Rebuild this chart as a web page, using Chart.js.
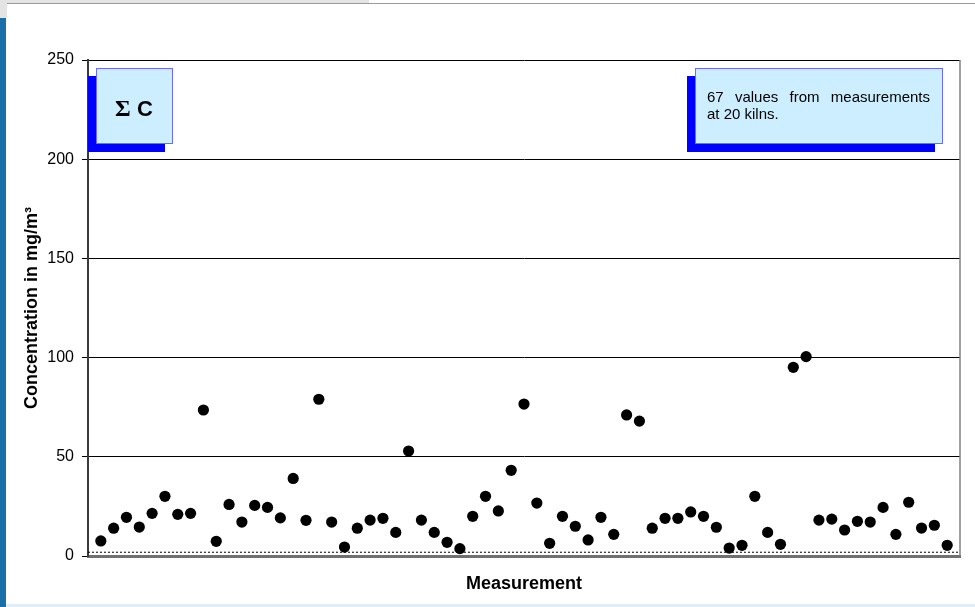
<!DOCTYPE html>
<html>
<head>
<meta charset="utf-8">
<title>Sum C concentration</title>
<script src="https://cdn.jsdelivr.net/npm/chart.js@4.4.0/dist/chart.umd.min.js"></script>
<style>
    html, body { margin: 0; padding: 0; background: #fff; }
    #page { position: relative; width: 975px; height: 607px; overflow: hidden; background: #fff; }
    #topBand { position: absolute; left: 0; top: 0; width: 369px; height: 3px; background: #e4e4e4; }
    #corner { position: absolute; left: 0; top: 0; width: 7px; height: 18px; background: #e4e4e4; }
    #topLine { position: absolute; left: 7px; top: 3px; right: 0; height: 1px; background: #6fa6d2; }
    #sideBar { position: absolute; left: 0; top: 18px; width: 6px; bottom: 0; background: #1b6fa9; }
    #bottomLine { position: absolute; left: 6px; right: 0; bottom: 0; height: 3px; background: #e0eef9; }
    #chart { position: absolute; left: 0; top: 0; }
</style>
</head>
<body>
<div id="page">
    <div id="topBand"></div>
    <div id="corner"></div>
    <div id="topLine"></div>
    <div id="sideBar"></div>
    <div id="bottomLine"></div>
    <canvas id="chart" width="975" height="607"></canvas>
</div>
<script>
// measurement number (x) and concentration in mg/m3 (y)
const measurements = [
    1, 2, 3, 4, 5, 6, 7, 8, 9, 10, 11, 12, 13, 14, 15, 16, 17, 18, 19, 20,
    21, 22, 23, 24, 25, 26, 27, 28, 29, 30, 31, 32, 33, 34, 35, 36, 37, 38, 39, 40,
    41, 42, 43, 44, 45, 46, 47, 48, 49, 50, 51, 52, 53, 54, 55, 56, 57, 58, 59, 60,
    61, 62, 63, 64, 65, 66, 67
];
const concentrations = [
    7.6, 14.0, 19.5, 14.6, 21.5, 30.1, 21.0, 21.5, 73.6, 7.4,
    26.0, 17.1, 25.5, 24.5, 19.2, 39.1, 18.0, 79.0, 17.1, 4.5,
    14.0, 18.1, 19.0, 11.9, 52.9, 18.1, 11.9, 6.9, 3.7, 20.0,
    30.1, 22.7, 43.2, 76.6, 26.7, 6.4, 20.0, 15.0, 8.1, 19.5,
    10.9, 71.1, 68.0, 14.0, 19.0, 19.0, 22.2, 20.0, 14.5, 4.0,
    5.4, 30.1, 11.9, 5.9, 95.1, 100.5, 18.1, 18.6, 13.1, 17.5,
    17.1, 24.5, 10.9, 27.1, 14.1, 15.5, 5.4
];
const yTicks = [0, 50, 100, 150, 200, 250];
const xRange = [0, 68];
const limitLevel = [1.9, 1.9];

const FONT = "'Liberation Sans', Arial, sans-serif";

const points = measurements.map((m, i) => ({ x: m, y: concentrations[i] }));
const limitPoints = xRange.map((x, i) => ({ x: x, y: limitLevel[i] }));

function drawBox(ctx, x, y, w, h) {
    ctx.fillStyle = '#0000ff';
    ctx.fillRect(x - 8, y + 8, w, h);
    ctx.fillStyle = '#cdeeff';
    ctx.fillRect(x, y, w, h);
    ctx.strokeStyle = '#6b6bff';
    ctx.lineWidth = 1;
    ctx.strokeRect(x + 0.5, y + 0.5, w - 1, h - 1);
}

function justifyLine(ctx, text, left, right, y) {
    const words = text.split(' ');
    const widths = words.map(w => ctx.measureText(w).width);
    const total = widths.reduce((a, b) => a + b, 0);
    const gap = (right - left - total) / (words.length - 1);
    let x = left;
    words.forEach((w, i) => {
        ctx.fillText(w, x, y);
        x += widths[i] + gap;
    });
}

const boxesPlugin = {
    id: 'boxes',
    afterDraw(chart) {
        const { ctx, chartArea } = chart;
        ctx.save();
        // right border of plot area
        ctx.strokeStyle = '#808080';
        ctx.lineWidth = 1.5;
        ctx.beginPath();
        ctx.moveTo(chartArea.right, chartArea.top);
        ctx.lineTo(chartArea.right, chartArea.bottom);
        ctx.stroke();

        // sigma C box
        drawBox(ctx, chartArea.left + 8, chartArea.top + 8, 77, 76);
        ctx.fillStyle = '#000';
        ctx.textAlign = 'left';
        ctx.textBaseline = 'alphabetic';
        ctx.font = 'bold 24px "Liberation Serif", serif';
        ctx.fillText('\u03A3', chartArea.left + 27, chartArea.top + 56);
        ctx.font = 'bold 22px ' + FONT;
        ctx.fillText('C', chartArea.left + 49, chartArea.top + 56);

        // info box
        drawBox(ctx, 695, chartArea.top + 8, 248, 76);
        ctx.fillStyle = '#000';
        ctx.font = '15px ' + FONT;
        justifyLine(ctx, '67 values from measurements', 707, 930, chartArea.top + 42);
        ctx.fillText('at 20 kilns.', 707, chartArea.top + 59);
        ctx.restore();
    }
};

new Chart(document.getElementById('chart'), {
    type: 'scatter',
    data: {
        datasets: [
            {
                label: 'Sum C',
                data: points,
                backgroundColor: '#000',
                borderColor: '#000',
                pointRadius: 5.6,
                pointBorderWidth: 0,
                order: 1
            },
            {
                label: 'limit',
                data: limitPoints,
                type: 'line',
                showLine: true,
                borderColor: '#000',
                borderWidth: 1,
                borderDash: [2, 2],
                pointRadius: 0,
                fill: false,
                order: 2
            }
        ]
    },
    options: {
        responsive: false,
        animation: false,
        layout: { padding: { top: 60, right: 15, bottom: 0, left: 0 } },
        plugins: {
            legend: { display: false },
            tooltip: { enabled: false }
        },
        scales: {
            x: {
                type: 'linear',
                min: xRange[0],
                max: xRange[1],
                afterFit: s => { s.height = 51; },
                grid: { display: false, drawTicks: false },
                border: { display: true, color: '#707070', width: 3 },
                ticks: { display: false },
                title: {
                    display: true,
                    text: 'Measurement',
                    color: '#000',
                    font: { family: FONT, size: 18, weight: 'bold' },
                    padding: { top: 0, bottom: 12 }
                }
            },
            y: {
                min: 0,
                max: 250,
                afterBuildTicks: s => { s.ticks = yTicks.map(v => ({ value: v })); },
                afterFit: s => { s.width = 88; },
                grid: { color: '#000', lineWidth: 1, tickLength: 6, tickColor: '#000' },
                border: { display: true, color: '#3a3a3a', width: 2 },
                ticks: {
                    color: '#000',
                    padding: 8,
                    font: { family: FONT, size: 16 }
                },
                title: {
                    display: true,
                    text: 'Concentration in mg/m\u00B3',
                    color: '#000',
                    font: { family: FONT, size: 18, weight: 'bold' },
                    padding: { top: 21, bottom: 0 }
                }
            }
        }
    },
    plugins: [boxesPlugin]
});
</script>
</body>
</html>
